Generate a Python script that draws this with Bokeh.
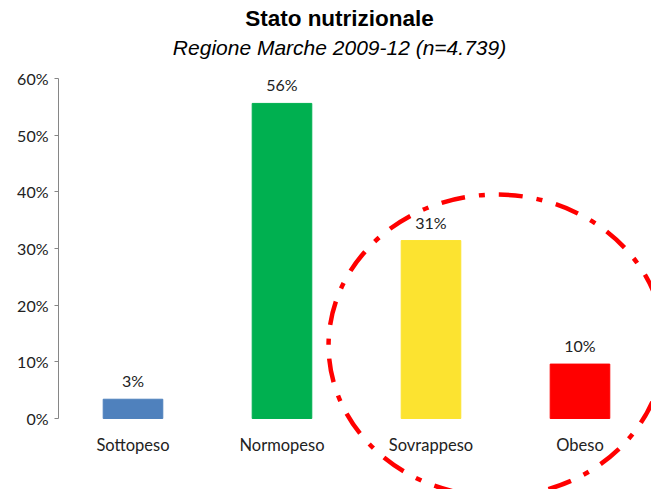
from bokeh.plotting import figure
from bokeh.models import Range1d, FixedTicker, ColumnDataSource
from bokeh.core.properties import value
from bokeh.embed import file_html
from bokeh.resources import INLINE

categories = ["Sottopeso", "Normopeso", "Sovrappeso", "Obeso"]
values = [3.4, 55.6, 31.4, 9.6]
value_labels = ["3%", "56%", "31%", "10%"]
colors = ["#4F81BD", "#00B050", "#FCE330", "#FF0000"]
y_ticks = [0, 10, 20, 30, 40, 50, 60]
y_tick_labels = ["0%", "10%", "20%", "30%", "40%", "50%", "60%"]
title = "Stato nutrizionale"
subtitle = "Regione Marche 2009-12 (n=4.739)"

xs = [i + 0.5 for i in range(len(categories))]

p = figure(width=651, height=489, output_backend="svg", toolbar_location=None,
           x_range=Range1d(0, 3.98), y_range=Range1d(-12.53, 73.76),
           x_axis_location=None, min_border_left=58, min_border_right=0,
           min_border_top=0, min_border_bottom=0)
p.outline_line_color = None
p.grid.visible = False
p.background_fill_color = "white"
p.border_fill_color = "white"

ax = p.yaxis[0]
ax.ticker = FixedTicker(ticks=y_ticks)
ax.major_label_overrides = {t: l for t, l in zip(y_ticks, y_tick_labels)}
ax.bounds = (0, 60)
ax.axis_line_color = "#868686"
ax.major_tick_line_color = "#868686"
ax.major_tick_in = 0
ax.major_tick_out = 4
ax.minor_tick_line_color = None
ax.major_label_text_font = "Lato"
ax.major_label_text_font_size = "16px"
ax.major_label_text_color = "#222222"
ax.major_label_standoff = 6

src = ColumnDataSource(dict(x=xs, top=values, color=colors, lab=value_labels, cat=categories))
p.vbar(x="x", top="top", bottom=0, width=0.40, color="color", source=src)

p.text(x="x", y="top", text="lab", source=src, text_align="center", text_baseline="middle",
       y_offset=-18.5, text_font=value("Lato"), text_font_size="16px", text_color="#222222")

p.text(x="x", y=-4.76, text="cat", source=src, text_align="center", text_baseline="middle",
       text_font=value("Lato"), text_font_size="16.5px", text_color="#222222")

p.text(x=[1.886], y=[70.6], text=[title], text_align="center", text_baseline="middle",
       text_font=value("Liberation Sans"), text_font_style="bold", text_font_size="22.5px",
       text_color="black")
p.text(x=[1.886], y=[65.5], text=[subtitle], text_align="center", text_baseline="middle",
       text_font=value("Liberation Sans"), text_font_style="italic", text_font_size="21px",
       text_color="black")

p.ellipse(x=[2.94], y=[12.88], width=[2.255], height=[53.3], fill_color=None,
          line_color="#FF0000", line_width=4.5, line_dash="24 14 6 14")

open("out.html", "w").write(file_html(p, INLINE))
